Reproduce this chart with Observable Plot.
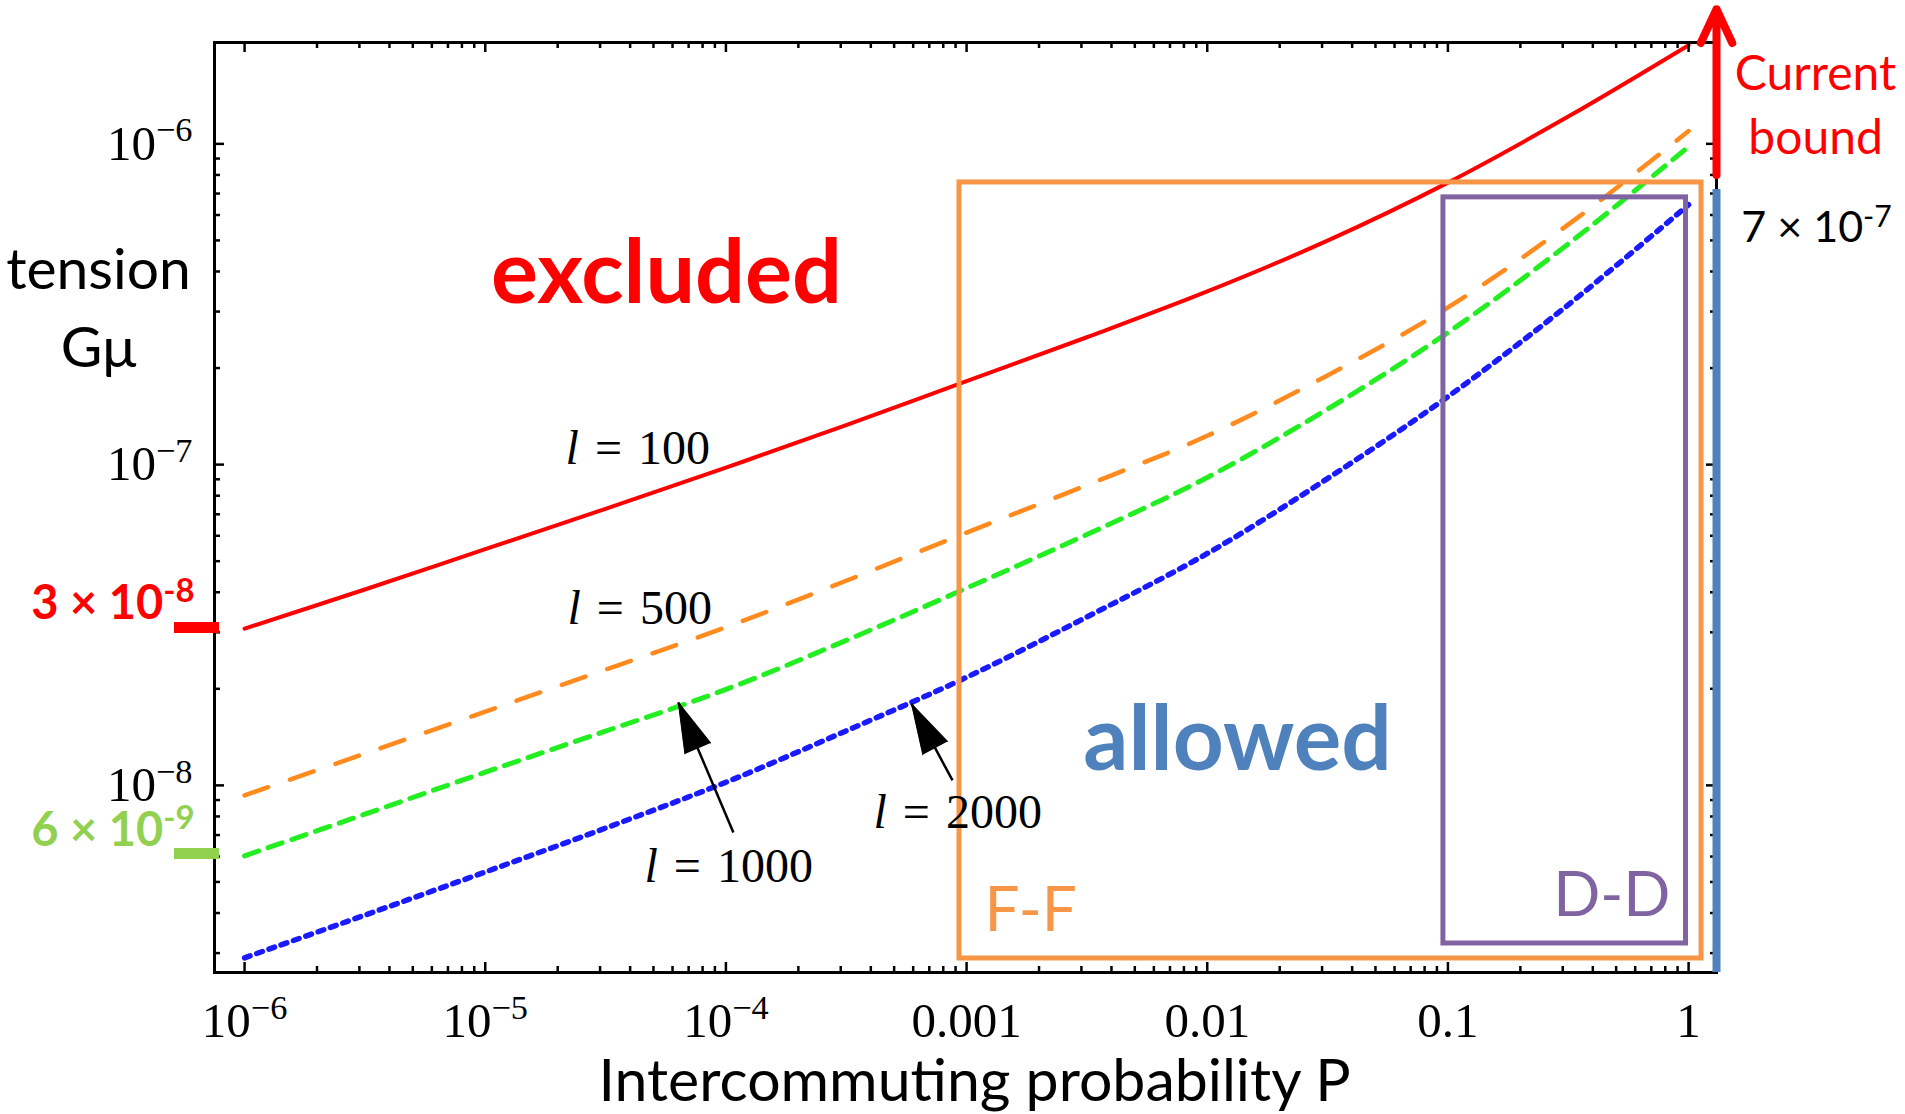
<!DOCTYPE html>
<html>
<head>
<meta charset="utf-8">
<script src="https://cdn.jsdelivr.net/npm/d3@7"></script>
<script src="https://cdn.jsdelivr.net/npm/@observablehq/plot@0.6"></script>
<style>
  html, body { margin: 0; padding: 0; background: #fff; }
  svg { display: block; }
</style>
</head>
<body>
<div id="chart"></div>
<script>
// ---------- data ----------
const P = [1e-6, 3.16e-6, 1e-5, 3.16e-5, 1e-4, 3.16e-4, 1e-3, 3.16e-3, 1e-2, 3.16e-2, 0.1, 0.316, 1];
const gmuL100  = [3.08e-8, 4.08e-8, 5.45e-8, 7.28e-8, 9.79e-8, 1.327e-7, 1.82e-7, 2.495e-7, 3.467e-7, 4.99e-7, 7.57e-7, 1.216e-6, 2.03e-6];
const gmuL500  = [9.31e-9, 1.256e-8, 1.698e-8, 2.296e-8, 3.112e-8, 4.345e-8, 6.138e-8, 8.63e-8, 1.23e-7, 1.897e-7, 3.09e-7, 5.6e-7, 1.096e-6];
const gmuL1000 = [6.03e-9, 8.13e-9, 1.099e-8, 1.476e-8, 1.991e-8, 2.831e-8, 4.121e-8, 6.053e-8, 9.12e-8, 1.489e-7, 2.582e-7, 4.875e-7, 9.8e-7];
const gmuL2000 = [2.9e-9, 3.94e-9, 5.37e-9, 7.36e-9, 1.023e-8, 1.479e-8, 2.173e-8, 3.35e-8, 5.284e-8, 9.05e-8, 1.629e-7, 3.148e-7, 6.46e-7];

const xTicks = [1e-6, 1e-5, 1e-4, 1e-3, 1e-2, 1e-1, 1];
const xTickLabels = ["10^\u22126", "10^\u22125", "10^\u22124", "0.001", "0.01", "0.1", "1"];
const yTicks = [1e-8, 1e-7, 1e-6];
const yTickLabels = ["10^\u22128", "10^\u22127", "10^\u22126"];

const xDomain = [7.5e-7, 1.306];
const yDomain = [2.61e-9, 2.07e-6];

// annotation anchors (in data units)
const boundP = 1.306;
const currentBound = {y1: 8e-7, y2: 2.63e-6};
const allowedTop = 7.2e-7;
const ffBox = {x1: 9.346e-4, x2: 1.132, y1: 2.886e-9, y2: 7.58e-7};
const ddBox = {x1: 0.0958, x2: 0.9757, y1: 3.214e-9, y2: 6.81e-7};
const arrows = [
  {x1: 1.074e-4, y1: 7.13e-9, x2: 6.34e-5, y2: 1.814e-8},
  {x1: 8.74e-4, y1: 1.036e-8, x2: 5.904e-4, y2: 1.794e-8}
];
const limitBars = [
  {x1: 5.115e-7, x2: 7.87e-7, y: 3.107e-8, c: "#ff0000"},
  {x1: 5.115e-7, x2: 7.87e-7, y: 6.134e-9, c: "#92d050"}
];

// ---------- layout ----------
const W = 1905, H = 1114, mL = 214, mR = 189, mT = 42, mB = 142;
const innerW = W - mL - mR, innerH = H - mT - mB;
const SERIF = "Liberation Serif, Times New Roman, serif";
const SANS = "Lato, Open Sans, sans-serif";

const toRows = (ys) => P.map((p, i) => ({P: p, gmu: ys[i]}));

const xMinor = [];
for (let e = -6; e < 0; e++) for (let m = 2; m <= 9; m++) xMinor.push(m * Math.pow(10, e));
const yMinor = [];
for (let e = -9; e < -6; e++) for (let m = 2; m <= 9; m++) {
  const v = m * Math.pow(10, e);
  if (v > yDomain[0] && v < 1.5e-6) yMinor.push(v);
}

const sx = Plot.scale({x: {type: "log", domain: xDomain, range: [mL, W - mR]}});
const sy = Plot.scale({y: {type: "log", domain: yDomain, range: [H - mB, mT]}});
const angleOf = d => Math.atan2(sx.apply(d.x2) - sx.apply(d.x1), -(sy.apply(d.y2) - sy.apply(d.y1))) * 180 / Math.PI;

const txt = (arr, opts) => Plot.text(arr, {x: "x", y: "y", text: "t", lineAnchor: "bottom", ...opts});
const SP = "\u2004";

const svg = Plot.plot({
  width: W, height: H,
  marginLeft: mL, marginRight: mR, marginTop: mT, marginBottom: mB,
  style: {fontFamily: SERIF, fontSize: "46px", background: "#fff", overflow: "visible"},
  x: {type: "log", domain: xDomain},
  y: {type: "log", domain: yDomain},
  marks: [
    Plot.line(toRows(gmuL100),  {x: "P", y: "gmu", stroke: "#ff0000", strokeWidth: 4, curve: "catmull-rom"}),
    Plot.line(toRows(gmuL500),  {x: "P", y: "gmu", stroke: "#ff8a1e", strokeWidth: 4.5, strokeDasharray: "25,23", curve: "catmull-rom"}),
    Plot.line(toRows(gmuL1000), {x: "P", y: "gmu", stroke: "#22ee22", strokeWidth: 5, strokeDasharray: "15,10", curve: "catmull-rom"}),
    Plot.line(toRows(gmuL2000), {x: "P", y: "gmu", stroke: "#1a1aff", strokeWidth: 5.5, strokeDasharray: "6,7", curve: "catmull-rom"}),

    Plot.rect([ffBox], {x1: "x1", x2: "x2", y1: "y1", y2: "y2", fill: "none", stroke: "#f79646", strokeWidth: 5}),
    Plot.rect([ddBox], {x1: "x1", x2: "x2", y1: "y1", y2: "y2", fill: "none", stroke: "#8064a2", strokeWidth: 5}),

    Plot.frame({stroke: "black", strokeWidth: 3}),
    Plot.tickX(xTicks, {x: d => d, insetTop: innerH - 10, stroke: "black", strokeWidth: 2.5}),
    Plot.tickX(xTicks, {x: d => d, insetBottom: innerH - 10, stroke: "black", strokeWidth: 2.5}),
    Plot.tickX(xMinor, {x: d => d, insetTop: innerH - 6, stroke: "black", strokeWidth: 2.5}),
    Plot.tickX(xMinor, {x: d => d, insetBottom: innerH - 6, stroke: "black", strokeWidth: 2.5}),
    Plot.tickY(yTicks, {y: d => d, insetRight: innerW - 10, stroke: "black", strokeWidth: 2.5}),
    Plot.tickY(yTicks, {y: d => d, insetLeft: innerW - 10, stroke: "black", strokeWidth: 2.5}),
    Plot.tickY(yMinor, {y: d => d, insetRight: innerW - 6, stroke: "black", strokeWidth: 2.5}),
    Plot.tickY(yMinor, {y: d => d, insetLeft: innerW - 6, stroke: "black", strokeWidth: 2.5}),

    Plot.axisX({ticks: xTicks, anchor: "bottom", tickSize: 0, tickPadding: 30, label: null,
      tickFormat: d => xTickLabels[xTicks.indexOf(d)], fontSize: 49, fontFamily: SERIF, fill: "black"}),
    Plot.axisY({ticks: yTicks, anchor: "left", tickSize: 0, tickPadding: 22, label: null,
      tickFormat: d => yTickLabels[yTicks.indexOf(d)], fontSize: 49, fontFamily: SERIF, fill: "black"}),

    // limit bars on the left axis
    Plot.ruleY(limitBars, {x1: "x1", x2: "x2", y: "y", stroke: "c", strokeWidth: 11}),

    // current bound
    Plot.ruleX([boundP], {x: d => d, y1: allowedTop, y2: yDomain[0], stroke: "#4f81bd", strokeWidth: 8}),
    Plot.arrow([currentBound], {x1: () => boundP, x2: () => boundP, y1: "y1", y2: "y2",
      stroke: "#ff0000", strokeWidth: 8, headLength: 7, headAngle: 50}),

    // label arrows
    Plot.link(arrows, {x1: "x1", y1: "y1", x2: "x2", y2: "y2", stroke: "black", strokeWidth: 2.5}),
    Plot.vector(arrows, {x: "x2", y: "y2", rotate: angleOf, length: 50, r: 14, shape: "spike", anchor: "end",
      fill: "black", stroke: "black", strokeWidth: 1}),

    // curve labels
    txt([{x: 2.156e-5, y: 1.008e-7, t: "l" + SP + "=" + SP + "100"},
         {x: 2.197e-5, y: 3.174e-8, t: "l" + SP + "=" + SP + "500"},
         {x: 4.589e-5, y: 4.98e-9, t: "l" + SP + "=" + SP + "1000"},
         {x: 4.105e-4, y: 7.39e-9, t: "l" + SP + "=" + SP + "2000"}],
        {textAnchor: "start", fontSize: 48, fontFamily: SERIF, fill: "black"}),

    // region labels
    txt([{x: 5.66e-5, y: 3.18e-7, t: "excluded"}], {fontFamily: SANS, fontWeight: "bold", fontSize: 88, fill: "#ff0000"}),
    txt([{x: 0.01336, y: 1.113e-8, t: "allowed"}], {fontFamily: SANS, fontWeight: "bold", fontSize: 89, fill: "#4f81bd"}),
    txt([{x: 1.187e-3, y: 3.528e-9, t: "F-F"}], {fontFamily: SANS, fontSize: 62, fill: "#f79646", textAnchor: "start"}),
    txt([{x: 0.841, y: 3.913e-9, t: "D-D"}], {fontFamily: SANS, fontSize: 62, fill: "#8064a2", textAnchor: "end"}),

    // right side
    txt([{x: 3.369, y: 1.467e-6, t: "Current"}, {x: 3.369, y: 9.33e-7, t: "bound"}], {fontFamily: SANS, fontSize: 48, fill: "#ff0000"}),
    txt([{x: 3.40, y: 4.927e-7, t: "7 \u00d7 10^-7"}], {fontFamily: SANS, fontSize: 43, fill: "black"}),

    // left side
    txt([{x: 2.472e-7, y: 3.54e-7, t: "tension"}, {x: 2.472e-7, y: 2.009e-7, t: "G\u03bc"}], {fontFamily: SANS, fontSize: 57, fill: "black"}),
    txt([{x: 6.196e-7, y: 3.29e-8, t: "3 \u00d7 10^-8"}], {fontFamily: SANS, fontWeight: "bold", fontSize: 47, fill: "#ff0000", textAnchor: "end"}),
    txt([{x: 6.196e-7, y: 6.449e-9, t: "6 \u00d7 10^-9"}], {fontFamily: SANS, fontWeight: "bold", fontSize: 47, fill: "#92d050", textAnchor: "end"}),

    // x-axis title
    txt([{x: 1.0795e-3, y: 1.041e-9, t: "Intercommuting probability P"}], {fontFamily: SANS, fontSize: 59, fill: "black"})
  ]
});

document.getElementById("chart").appendChild(svg);

// rich text: superscripts after "^", italic leading "l"
d3.select(svg).selectAll("text").each(function () {
  const s = this.textContent;
  const isL = s.startsWith("l" + SP);
  if (!s.includes("^") && !isL) return;
  const cs = getComputedStyle(this);
  const fs = parseFloat(cs.fontSize);
  const serif = /Serif/i.test(cs.fontFamily);
  const ratio = serif ? 0.7 : 0.67, raise = serif ? 0.37 : 0.3;
  let [main, sup] = s.split("^");
  this.textContent = "";
  const sel = d3.select(this);
  if (isL) {
    sel.append("tspan").attr("font-style", "italic").text("l");
    main = main.slice(1);
  }
  sel.append("tspan").text(main);
  if (sup !== undefined) {
    sel.append("tspan").attr("font-size", (fs * ratio).toFixed(1)).attr("dy", (-fs * raise).toFixed(1)).text(sup);
  }
});
</script>
</body>
</html>
